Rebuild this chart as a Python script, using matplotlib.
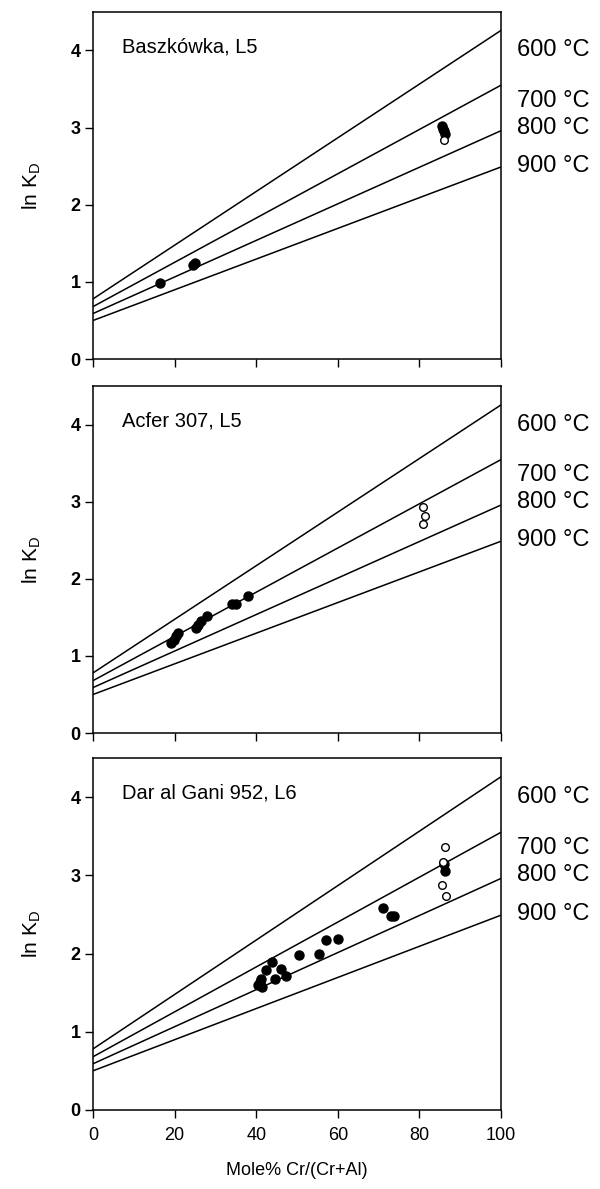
import numpy as np
import matplotlib
matplotlib.use("Agg")
import matplotlib.pyplot as plt

plt.rcParams['font.family'] = ['Liberation Sans', 'DejaVu Sans']

# isotherms: ln KD at Cr# = 0 and Cr# = 100
temps = ['600 °C', '700 °C', '800 °C', '900 °C']
line_y0 = [0.78, 0.68, 0.59, 0.50]
line_y100 = [4.26, 3.55, 2.96, 2.49]
label_y = [4.0, 3.35, 3.0, 2.5]

titles = ['Baszkówka, L5', 'Acfer 307, L5', 'Dar al Gani 952, L6']

# Baszkówka
bas_fx = [16.5, 24.5, 25.0, 85.5, 85.8, 86.0, 86.2]
bas_fy = [0.98, 1.22, 1.25, 3.02, 2.98, 2.95, 2.92]
bas_ox = [86.0]
bas_oy = [2.84]

# Acfer 307
acf_fx = [19.0, 19.8, 20.3, 20.8, 25.3, 25.8, 26.5, 28.0, 34.0, 35.0, 38.0]
acf_fy = [1.17, 1.21, 1.26, 1.30, 1.36, 1.40, 1.45, 1.52, 1.67, 1.68, 1.78]
acf_ox = [81.0, 81.3, 81.0]
acf_oy = [2.94, 2.82, 2.72]

# Dar al Gani 952
dag_fx = [40.5, 41.0, 41.5, 41.2, 42.3, 43.8, 44.5, 46.0, 47.2, 50.5, 55.5, 57.0, 60.0,
          71.0, 73.0, 73.8, 86.0, 86.2]
dag_fy = [1.60, 1.63, 1.57, 1.67, 1.79, 1.89, 1.68, 1.80, 1.71, 1.98, 2.00, 2.17, 2.18,
          2.58, 2.48, 2.48, 3.14, 3.05]
dag_ox = [86.2, 85.8, 85.6, 86.5]
dag_oy = [3.36, 3.17, 2.88, 2.74]

filled_x = [bas_fx, acf_fx, dag_fx]
filled_y = [bas_fy, acf_fy, dag_fy]
open_x = [bas_ox, acf_ox, dag_ox]
open_y = [bas_oy, acf_oy, dag_oy]

fig = plt.figure(figsize=(6, 11.89), dpi=100)
boxes = [[0.155, 0.698, 0.68, 0.292],
         [0.155, 0.3835, 0.68, 0.2915],
         [0.155, 0.0665, 0.68, 0.296]]

for i, box in enumerate(boxes):
    ax = fig.add_axes(box)
    xs = np.array([0, 100])
    for t, a, b, ly in zip(temps, line_y0, line_y100, label_y):
        ax.plot(xs, [a, b], color='black', lw=1.1)
        ax.text(104, ly, t, fontsize=17, va='center', ha='left', clip_on=False)
    ax.plot(filled_x[i], filled_y[i], 'o', color='black', ms=6.5, mec='black')
    ax.plot(open_x[i], open_y[i], 'o', mfc='white', mec='black', ms=5.5, mew=1.0)
    ax.text(7, 4.05, titles[i], fontsize=14.5, va='center', ha='left')
    ax.set_xlim(0, 100)
    ax.set_ylim(0, 4.5)
    ax.set_yticks([0, 1, 2, 3, 4])
    ax.set_xticks([0, 20, 40, 60, 80, 100])
    ax.tick_params(direction='out', length=5.5, width=1.0)
    for lab in ax.get_yticklabels():
        lab.set_fontweight('bold')
        lab.set_fontsize(13)
    ax.set_ylabel(r'ln K$_\mathregular{D}$', fontsize=15, labelpad=20)
    for s in ax.spines.values():
        s.set_linewidth(1.1)
    if i < 2:
        ax.set_xticklabels([])
    else:
        ax.tick_params(axis='x', labelsize=13, pad=7)
        ax.set_xlabel('Mole% Cr/(Cr+Al)', fontsize=13, labelpad=13)

fig.savefig('out.png', dpi=100)
